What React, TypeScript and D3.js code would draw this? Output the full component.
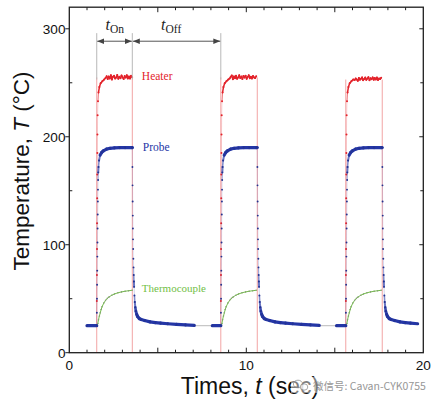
import React from "react";
import * as d3 from "d3";

// ---- data ----
const cycleOn = [1.55, 8.56, 15.62];
const cycleOff = [3.56, 10.62, 17.68];
const probeStart = [1.0, 8.08, 15.1];
const dataEnd = 20;
const baselineV = 25;
const heaterLevel = [255, 255, 253];

// probe (blue), s after switch-on
const probeRiseDt = [0, 0.007, 0.014, 0.021, 0.028, 0.035, 0.042, 0.049, 0.056, 0.063, 0.07, 0.077, 0.085, 0.1, 0.13, 0.19, 0.28, 0.38, 0.55, 0.75, 1.0, 1.3, 1.6, 2.0];
const probeRiseV = [25, 37, 50, 63, 76, 89, 102, 115, 128, 140, 151, 160, 167, 172, 178, 183, 185.5, 187, 188.5, 189.3, 189.7, 190, 190, 190];
// probe, s after switch-off
const probeDecayDt = [0, 0.007, 0.014, 0.021, 0.028, 0.035, 0.042, 0.05, 0.06, 0.07, 0.08, 0.09, 0.1, 0.12, 0.14, 0.17, 0.2, 0.25, 0.3, 0.4, 0.5, 0.7, 1.0, 1.3, 1.6, 2.0, 2.5, 3.0, 3.5];
const probeDecayV = [190, 172, 155, 140, 127, 115, 105, 96, 87, 79, 72, 66, 61, 53, 47, 42, 38.5, 35.5, 33.5, 31.6, 30.8, 29.8, 28.6, 27.9, 27.4, 26.8, 26.2, 25.7, 25.3];

// heater (red), s after switch-on
const heaterRiseDt = [0, 0.005, 0.01, 0.015, 0.02, 0.025, 0.03, 0.035, 0.04, 0.05, 0.07, 0.1, 0.15, 0.22, 0.32, 0.42];
const heaterRiseV = [25, 48, 72, 96, 120, 143, 165, 185, 202, 220, 233, 241, 246, 249.5, 251.5, 253];
// heater plateau readings, one every 0.06 s starting 0.5 s after switch-on
const heaterPlateau1 = [254.5, 256, 253.5, 255.8, 254, 257, 253, 255.5, 256.5, 254, 255, 257.2, 253.8, 255.6, 254.2, 256.8, 255, 253.6, 256.2, 254.8, 257, 254, 255.8, 253.9, 256.4, 255.2];
const heaterPlateau2 = [254, 255.5, 256.8, 253.2, 255.9, 254.3, 256.6, 253.8, 255, 257, 254.5, 255.7, 253.5, 256.2, 254.9, 256.5, 253.7, 255.4, 256.9, 254.1, 255.6, 253.9, 256.3, 255, 254.4, 256];
const heaterPlateau3 = [252.5, 254, 253, 251.8, 254.5, 252.9, 253.8, 255, 252.3, 253.6, 254.8, 252.7, 253.9, 255.2, 252.4, 254.1, 253.3, 255, 252.8, 254.4, 253.1, 254.9, 252.6, 254, 253.5, 254.6];
const heaterPlateaus = [heaterPlateau1, heaterPlateau2, heaterPlateau3];
const plateauStart = 0.5;
const plateauStep = 0.06;

// thermocouple (green), s after switch-on
const thermoDt = [0.03, 0.06, 0.1, 0.15, 0.2, 0.25, 0.3, 0.4, 0.5, 0.6, 0.7, 0.85, 1.0, 1.2, 1.4, 1.6, 1.8, 2.0];
const thermoV = [25, 27, 30.5, 34, 37, 40, 42.5, 46, 48.5, 50.3, 51.7, 53.2, 54.4, 55.5, 56.3, 56.9, 57.4, 57.8];

const xLabelTicks = [0, 10, 20];
const yLabelTicks = [0, 100, 200, 300];

// ---- layout ----
const W = 436;
const H = 404;
const x = d3.scaleLinear().domain([0, 20]).range([69.3, 423.3]);
const y = d3.scaleLinear().domain([0, 320]).range([352.7, 7.2]);

const BLUE = "#2436a6";
const RED = "#e3232b";
const GREEN = "#72c046";
const PINK = "#f2a4a4";

type P = [number, number];

function probeCycle(i: number): P[] {
  const pts: P[] = [[probeStart[i], baselineV]];
  probeRiseDt.forEach((d, k) => {
    const t = cycleOn[i] + d;
    if (t < cycleOff[i]) pts.push([t, probeRiseV[k]]);
  });
  probeDecayDt.forEach((d, k) => {
    const t = cycleOff[i] + d;
    if (t <= dataEnd) pts.push([t, probeDecayV[k]]);
  });
  return pts;
}

function heaterCycle(i: number): P[] {
  const pts: P[] = heaterRiseDt.map((d, k) => [cycleOn[i] + d, heaterRiseV[k]] as P);
  heaterPlateaus[i].forEach((v, k) => {
    const t = cycleOn[i] + plateauStart + k * plateauStep;
    if (t <= cycleOff[i]) pts.push([t, v]);
  });
  return pts;
}

function thermoCycle(i: number): P[] {
  return thermoDt.map((d, k) => [cycleOn[i] + d, thermoV[k]] as P);
}

function Segments({ pts, color, thick, thin, thinOpacity, steepFrom, steepTo }: { pts: P[]; color: string; thick: number; thin: number; thinOpacity: number; steepFrom: number; steepTo: number }) {
  const wScale = d3.scaleLinear().domain([steepFrom, steepTo]).range([thick, thin]).clamp(true);
  const oScale = d3.scaleLinear().domain([steepFrom, steepTo]).range([1, thinOpacity]).clamp(true);
  return (
    <g>
      {d3.pairs(pts).map(([a, b], k) => {
        const x1 = x(a[0]), y1 = y(a[1]), x2 = x(b[0]), y2 = y(b[1]);
        const dy = Math.abs(y2 - y1);
        return (
          <line
            key={k}
            x1={x1}
            y1={y1}
            x2={x2}
            y2={y2}
            stroke={color}
            strokeWidth={wScale(dy)}
            strokeOpacity={oScale(dy)}
            strokeLinecap="round"
          />
        );
      })}
    </g>
  );
}

function Dots({ pts, color, r }: { pts: P[]; color: string; r: number }) {
  return (
    <g>
      {pts.map((p, k) => (
        <circle key={k} cx={x(p[0])} cy={y(p[1])} r={r} fill={color} />
      ))}
    </g>
  );
}

export default function App() {
  const left = x(0), right = x(20), top = y(320), bottom = y(0);
  const minorX = x.ticks(20).filter((t) => t > 0 && t < 20);
  const yAll = y.ticks(7).filter((t) => t > 0 && t < 320); // 50-step ticks
  const axisColor = "#1e1e1e";
  const sans = "'Liberation Sans', Arial, sans-serif";
  const serif = "'Liberation Serif', 'Times New Roman', serif";

  const annY = y(288.5);
  const guideTopY = y(296);
  const guideBotY = y(253);

  return (
    <svg width={W} height={H} style={{ position: "absolute", left: 0, top: 0, background: "#fff" }}>
      <defs>
        <marker id="ah" viewBox="0 0 10 8" refX="10" refY="4" markerWidth="7" markerHeight="5.6" markerUnits="userSpaceOnUse" orient="auto-start-reverse">
          <path d="M0,0 L10,4 L0,8 z" fill="#444" />
        </marker>
      </defs>
      <rect x={0} y={0} width={W} height={H} fill="#fff" />

      {/* pink switching guides */}
      {cycleOn.map((t, i) => (
        <g key={"g" + i}>
          <line x1={x(t)} x2={x(t)} y1={bottom} y2={y(heaterLevel[i])} stroke={PINK} strokeWidth={1} />
          <line x1={x(cycleOff[i])} x2={x(cycleOff[i])} y1={bottom} y2={y(heaterLevel[i])} stroke={PINK} strokeWidth={1} />
        </g>
      ))}

      {/* gray connectors across probe data gaps */}
      {probeStart.slice(1).map((s, i) => (
        <line key={"c" + i} x1={x(cycleOff[i] + probeDecayDt[probeDecayDt.length - 1])} x2={x(s)} y1={y(baselineV)} y2={y(baselineV)} stroke="#9a9a9a" strokeWidth={0.7} />
      ))}

      {/* heater */}
      {cycleOn.map((_, i) => {
        const pts = heaterCycle(i);
        return (
          <g key={"h" + i}>
            <Segments pts={pts} color={RED} thick={1.5} thin={0.6} thinOpacity={0.3} steepFrom={7} steepTo={10} />
            <Dots pts={pts} color={RED} r={1.0} />
          </g>
        );
      })}

      {/* thermocouple */}
      {cycleOn.map((_, i) => {
        const pts = thermoCycle(i);
        return (
          <g key={"t" + i}>
            <line x1={x(cycleOn[i])} y1={y(baselineV)} x2={x(pts[0][0])} y2={y(pts[0][1])} stroke="#999" strokeWidth={0.7} />
            <Segments pts={pts} color={GREEN} thick={1} thin={1} thinOpacity={1} steepFrom={100} steepTo={200} />
            <Dots pts={pts} color="#8aa07a" r={0.8} />
          </g>
        );
      })}

      {/* probe */}
      {cycleOn.map((_, i) => {
        const pts = probeCycle(i);
        return (
          <g key={"p" + i}>
            <Segments pts={pts} color={BLUE} thick={3.2} thin={0.5} thinOpacity={0.3} steepFrom={2.5} steepTo={9} />
            <Dots pts={pts} color="#24338f" r={0.95} />
          </g>
        );
      })}

      {/* annotation t_On / t_Off */}
      {[cycleOn[0], cycleOff[0], cycleOn[1]].map((t, k) => (
        <line key={"a" + k} x1={x(t)} x2={x(t)} y1={guideTopY} y2={guideBotY} stroke="#b8b8b8" strokeWidth={1} />
      ))}
      <line x1={x(cycleOn[0]) + 0.5} x2={x(cycleOff[0]) - 0.5} y1={annY} y2={annY} stroke="#555" strokeWidth={1} markerStart="url(#ah)" markerEnd="url(#ah)" />
      <line x1={x(cycleOff[0]) + 0.5} x2={x(cycleOn[1]) - 0.5} y1={annY} y2={annY} stroke="#555" strokeWidth={1} markerStart="url(#ah)" markerEnd="url(#ah)" />
      <text x={105.5} y={29.5} fontFamily={serif} fill="#222">
        <tspan fontStyle="italic" fontSize={16}>t</tspan>
        <tspan fontSize={11.5} dy={3.6}>On</tspan>
      </text>
      <text x={161} y={29.5} fontFamily={serif} fill="#222">
        <tspan fontStyle="italic" fontSize={16}>t</tspan>
        <tspan fontSize={11.5} dy={3.6}>Off</tspan>
      </text>

      {/* series labels */}
      <text x={x(4.1)} y={y(253)} fontFamily={serif} fontSize={11.5} fill={RED}>Heater</text>
      <text x={x(4.15)} y={y(187)} fontFamily={serif} fontSize={11.5} fill={BLUE}>Probe</text>
      <text x={x(4.1)} y={y(56.5)} fontFamily={serif} fontSize={11} fill={GREEN}>Thermocouple</text>

      {/* frame and ticks */}
      <rect x={left} y={top} width={right - left} height={bottom - top} fill="none" stroke={axisColor} strokeWidth={1.3} />
      {minorX.map((t) => {
        const len = t % 5 === 0 ? 5 : 3;
        return (
          <g key={"xt" + t}>
            <line x1={x(t)} x2={x(t)} y1={bottom} y2={bottom - len} stroke={axisColor} strokeWidth={1} />
            <line x1={x(t)} x2={x(t)} y1={top} y2={top + len} stroke={axisColor} strokeWidth={1} />
          </g>
        );
      })}
      {yAll.map((v) => {
        const major = v % 100 === 0;
        return (
          <g key={"yt" + v}>
            {major ? (
              <line x1={left - 4} x2={left} y1={y(v)} y2={y(v)} stroke={axisColor} strokeWidth={1} />
            ) : (
              <line x1={left} x2={left + 3} y1={y(v)} y2={y(v)} stroke={axisColor} strokeWidth={1} />
            )}
            <line x1={right} x2={right - (major ? 4 : 3)} y1={y(v)} y2={y(v)} stroke={axisColor} strokeWidth={1} />
          </g>
        );
      })}
      <line x1={left - 4} x2={left} y1={bottom} y2={bottom} stroke={axisColor} strokeWidth={1} />

      {yLabelTicks.map((v) => (
        <text key={"yl" + v} x={left - 3.8} y={y(v)} dy="0.36em" textAnchor="end" fontFamily={sans} fontSize={13.6} fill="#111">{v}</text>
      ))}
      {xLabelTicks.map((t) => (
        <text key={"xl" + t} x={x(t)} y={bottom + 17.5} textAnchor="middle" fontFamily={sans} fontSize={13.6} fill="#111">{t}</text>
      ))}

      {/* axis titles */}
      <text transform={`translate(28.5, ${(top + bottom) / 2 - 9}) rotate(-90)`} textAnchor="middle" fontFamily={sans} fontSize={22.5} fill="#111">
        Temperature, <tspan fontStyle="italic">T</tspan> (°C)
      </text>
      <text x={250} y={394} textAnchor="middle" fontFamily={sans} fontSize={23} fill="#111">
        Times, <tspan fontStyle="italic">t</tspan> (sec)
      </text>

      {/* watermark */}
      <g opacity={0.85}>
        <rect x={291} y={377} width={132} height={16} fill="#fff" opacity={0.55} />
        <ellipse cx={298} cy={384} rx={4.6} ry={3.8} fill="none" stroke="#9a9a9a" strokeWidth={1} />
        <ellipse cx={304} cy={387} rx={3.8} ry={3.2} fill="#fff" stroke="#9a9a9a" strokeWidth={1} />
        <text x={313} y={389.5} fontFamily="'Noto Sans CJK SC', 'Noto Sans', sans-serif" fontSize={10.5} fill="#858585">微信号: Cavan-CYK0755</text>
      </g>
    </svg>
  );
}
